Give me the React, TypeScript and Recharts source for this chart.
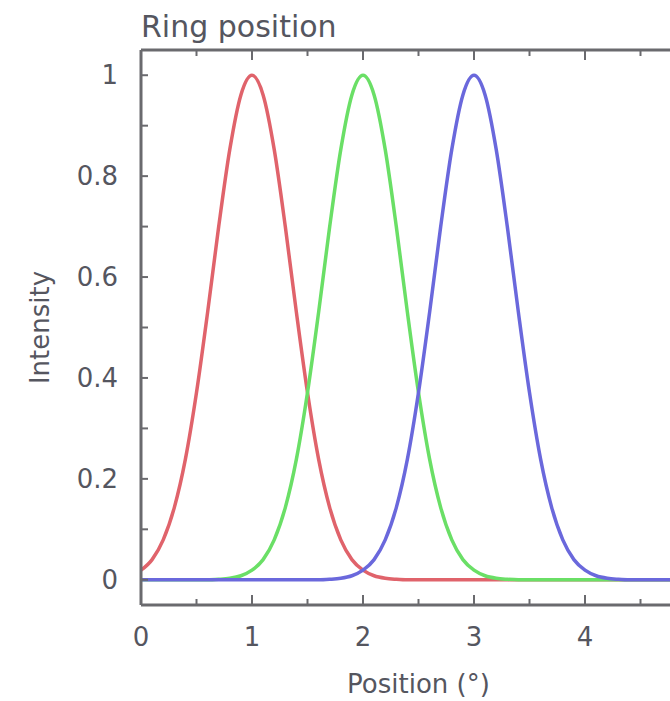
import React from 'react';
import { LineChart, Line, XAxis, YAxis } from 'recharts';

// position in degrees, sampled every 0.1
const positions = [
  0, 0.1, 0.2, 0.3, 0.4, 0.5, 0.6, 0.7, 0.8, 0.9,
  1, 1.1, 1.2, 1.3, 1.4, 1.5, 1.6, 1.7, 1.8, 1.9,
  2, 2.1, 2.2, 2.3, 2.4, 2.5, 2.6, 2.7, 2.8, 2.9,
  3, 3.1, 3.2, 3.3, 3.4, 3.5, 3.6, 3.7, 3.8, 3.9,
  4, 4.1, 4.2, 4.3, 4.4, 4.5, 4.6, 4.7, 4.8, 4.9,
  5,
];

const ring1 = [
  0.019, 0.04, 0.079, 0.143, 0.239, 0.371, 0.53, 0.7, 0.853, 0.961,
  1, 0.961, 0.853, 0.7, 0.53, 0.371, 0.239, 0.143, 0.079, 0.04,
  0.019, 0.008, 0.003, 0.001, 0, 0, 0, 0, 0, 0,
  0, 0, 0, 0, 0, 0, 0, 0, 0, 0,
  0, 0, 0, 0, 0, 0, 0, 0, 0, 0,
  0,
];

const ring2 = [
  0, 0, 0, 0, 0, 0, 0, 0.001, 0.003, 0.008,
  0.019, 0.04, 0.079, 0.143, 0.239, 0.371, 0.53, 0.7, 0.853, 0.961,
  1, 0.961, 0.853, 0.7, 0.53, 0.371, 0.239, 0.143, 0.079, 0.04,
  0.019, 0.008, 0.003, 0.001, 0, 0, 0, 0, 0, 0,
  0, 0, 0, 0, 0, 0, 0, 0, 0, 0,
  0,
];

const ring3 = [
  0, 0, 0, 0, 0, 0, 0, 0, 0, 0,
  0, 0, 0, 0, 0, 0, 0, 0.001, 0.003, 0.008,
  0.019, 0.04, 0.079, 0.143, 0.239, 0.371, 0.53, 0.7, 0.853, 0.961,
  1, 0.961, 0.853, 0.7, 0.53, 0.371, 0.239, 0.143, 0.079, 0.04,
  0.019, 0.008, 0.003, 0.001, 0, 0, 0, 0, 0, 0,
  0,
];

const xTicks = [0, 0.5, 1, 1.5, 2, 2.5, 3, 3.5, 4, 4.5, 5];
const yTicks = [0, 0.1, 0.2, 0.3, 0.4, 0.5, 0.6, 0.7, 0.8, 0.9, 1];
const xLabels = [0, 1, 2, 3, 4];
const yLabels = [0, 0.2, 0.4, 0.6, 0.8, 1];

const data = positions.map((x, i) => ({ x, red: ring1[i], green: ring2[i], blue: ring3[i] }));

const AXIS = '#6a6a6e';
const TEXT = '#55565f';
const FONT = '"DejaVu Sans", sans-serif';

const isMajor = (v: number, list: number[]) => list.some((t) => Math.abs(t - v) < 1e-6);

const BottomTick = (props: any) => {
  const { x, y, payload } = props;
  const v = payload.value;
  const major = Number.isInteger(v);
  return (
    <g>
      <line x1={x} y1={y} x2={x} y2={y - (major ? 10 : 6)} stroke={AXIS} strokeWidth={2} />
      {isMajor(v, xLabels) && (
        <text x={x} y={y + 41} textAnchor="middle" fill={TEXT} fontSize={26} fontFamily={FONT}>
          {v}
        </text>
      )}
    </g>
  );
};

const TopTick = (props: any) => {
  const { x, y, payload } = props;
  const major = Number.isInteger(payload.value);
  return <line x1={x} y1={y} x2={x} y2={y + (major ? 10 : 6)} stroke={AXIS} strokeWidth={2} />;
};

const LeftTick = (props: any) => {
  const { x, y, payload } = props;
  const v = payload.value;
  return (
    <g>
      <line x1={x} y1={y} x2={x + 7} y2={y} stroke={AXIS} strokeWidth={2} />
      {isMajor(v, yLabels) && (
        <text x={x - 23} y={y + 9} textAnchor="end" fill={TEXT} fontSize={26} fontFamily={FONT}>
          {v}
        </text>
      )}
    </g>
  );
};

export default function App() {
  return (
    <div style={{ position: 'fixed', left: 0, top: 0, width: 670, height: 701, overflow: 'hidden', background: '#fff' }}>
      <div
        style={{
          position: 'absolute',
          left: 141,
          top: 12,
          fontFamily: FONT,
          fontSize: 30,
          lineHeight: '30px',
          color: TEXT,
          whiteSpace: 'nowrap',
        }}
      >
        Ring position
      </div>
      <LineChart width={696} height={701} data={data} margin={{ top: 49, right: 0, bottom: 0, left: 0 }}>
        <XAxis
          dataKey="x"
          type="number"
          domain={[0, 5]}
          ticks={xTicks}
          interval={0}
          height={96}
          tickSize={0}
          tickMargin={0}
          tick={BottomTick}
          axisLine={{ stroke: AXIS, strokeWidth: 3 }}
          label={{ value: 'Position (°)', position: 'insideBottom', offset: 8, fill: TEXT, fontSize: 26, fontFamily: FONT }}
        />
        <XAxis
          xAxisId="top"
          orientation="top"
          dataKey="x"
          type="number"
          domain={[0, 5]}
          ticks={xTicks}
          interval={0}
          height={1}
          tickSize={0}
          tickMargin={0}
          tick={TopTick}
          axisLine={{ stroke: AXIS, strokeWidth: 3 }}
        />
        <YAxis
          type="number"
          domain={[-0.05, 1.05]}
          ticks={yTicks}
          interval={0}
          width={141}
          tickSize={0}
          tickMargin={0}
          tick={LeftTick}
          axisLine={{ stroke: AXIS, strokeWidth: 3 }}
          label={{
            value: 'Intensity',
            angle: -90,
            position: 'insideLeft',
            offset: 40,
            style: { textAnchor: 'middle', fill: TEXT, fontSize: 26, fontFamily: FONT },
          }}
        />
        <Line type="monotone" dataKey="red" stroke="#e0636b" strokeWidth={3.5} dot={false} isAnimationActive={false} />
        <Line type="monotone" dataKey="green" stroke="#6adf66" strokeWidth={3.5} dot={false} isAnimationActive={false} />
        <Line type="monotone" dataKey="blue" stroke="#6a68dc" strokeWidth={3.5} dot={false} isAnimationActive={false} />
      </LineChart>
    </div>
  );
}
